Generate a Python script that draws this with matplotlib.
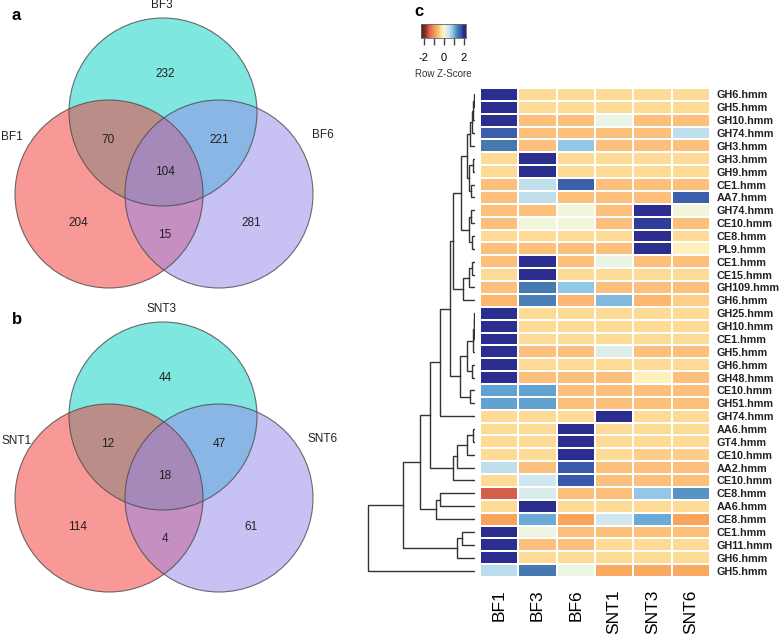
import numpy as np
import matplotlib
matplotlib.use("Agg")
import matplotlib.pyplot as plt
from matplotlib.patches import Circle
from matplotlib.colors import LinearSegmentedColormap, Normalize

W, H = 784, 641
plt.rcParams['font.family'] = ['Liberation Sans', 'DejaVu Sans']

# ---- data ----
bf_sets = ["BF1", "BF3", "BF6"]
snt_sets = ["SNT1", "SNT3", "SNT6"]
# region order: only1, only3, only6, 1&3, 3&6, 1&6, all
bf_counts = [204, 232, 281, 70, 221, 15, 104]
snt_counts = [114, 44, 61, 12, 47, 4, 18]

samples = ["BF1", "BF3", "BF6", "SNT1", "SNT3", "SNT6"]
families = ["GH6.hmm", "GH5.hmm", "GH10.hmm", "GH74.hmm", "GH3.hmm", "GH3.hmm",
            "GH9.hmm", "CE1.hmm", "AA7.hmm", "GH74.hmm", "CE10.hmm", "CE8.hmm",
            "PL9.hmm", "CE1.hmm", "CE15.hmm", "GH109.hmm", "GH6.hmm", "GH25.hmm",
            "GH10.hmm", "CE1.hmm", "GH5.hmm", "GH6.hmm", "GH48.hmm", "CE10.hmm",
            "GH51.hmm", "GH74.hmm", "AA6.hmm", "GT4.hmm", "CE10.hmm", "AA2.hmm",
            "CE10.hmm", "CE8.hmm", "AA6.hmm", "CE8.hmm", "CE1.hmm", "GH11.hmm",
            "GH6.hmm", "GH5.hmm"]
zscores = [
    [2.0, -0.3, -0.3, -0.3, -0.3, -0.3],
    [2.0, -0.3, -0.3, -0.3, -0.3, -0.3],
    [2.0, -0.5, -0.5, 0.2, -0.5, -0.5],
    [1.7, -0.5, -0.5, -0.5, -0.5, 0.6],
    [1.45, -0.5, 0.9, -0.5, -0.5, -0.5],
    [-0.3, 2.0, -0.3, -0.3, -0.3, -0.3],
    [-0.3, 2.0, -0.3, -0.3, -0.3, -0.3],
    [-0.5, 0.6, 1.7, -0.5, -0.5, -0.5],
    [-0.5, 0.6, -0.5, -0.5, -0.5, 1.7],
    [-0.5, -0.5, 0.1, -0.5, 2.0, 0.1],
    [-0.5, 0.1, 0.1, -0.5, 1.9, -0.5],
    [-0.3, -0.3, -0.3, -0.3, 2.0, -0.3],
    [-0.5, -0.5, -0.5, -0.5, 2.0, -0.1],
    [-0.5, 2.0, -0.5, 0.2, -0.5, -0.5],
    [-0.3, 2.0, -0.3, -0.3, -0.3, -0.3],
    [-0.5, 1.45, 0.9, -0.5, -0.5, -0.5],
    [-0.6, 1.4, -0.6, 1.0, -0.6, -0.4],
    [2.0, -0.3, -0.3, -0.3, -0.3, -0.3],
    [2.0, -0.3, -0.3, -0.3, -0.3, -0.3],
    [2.0, -0.3, -0.3, -0.3, -0.3, -0.3],
    [2.0, -0.5, -0.5, 0.35, -0.5, -0.5],
    [2.0, -0.3, -0.3, -0.3, -0.3, -0.3],
    [2.0, -0.5, -0.5, -0.5, -0.1, -0.5],
    [1.15, 1.15, -0.5, -0.5, -0.5, -0.5],
    [1.15, 1.15, -0.5, -0.5, -0.5, -0.5],
    [-0.3, -0.3, -0.3, 2.0, -0.3, -0.3],
    [-0.3, -0.3, 2.0, -0.3, -0.3, -0.3],
    [-0.3, -0.3, 2.0, -0.3, -0.3, -0.3],
    [-0.3, -0.3, 2.0, -0.3, -0.4, -0.4],
    [0.6, -0.5, 1.75, -0.5, -0.5, -0.5],
    [-0.3, 0.5, 1.75, -0.5, -0.5, -0.5],
    [-1.45, 0.4, -0.5, -0.5, 0.9, 1.25],
    [-0.3, 2.0, -0.3, -0.3, -0.3, -0.3],
    [-0.8, 1.1, -0.8, 0.5, 1.1, -0.8],
    [2.0, 0.15, -0.5, -0.5, -0.5, -0.5],
    [2.0, -0.5, -0.5, -0.3, -0.3, -0.3],
    [2.0, -0.3, -0.3, -0.3, -0.3, -0.3],
    [0.65, 1.45, 0.15, -0.75, -0.75, -0.75],
]

# row dendrogram merges: (name, left, right, height); ints are row indices
merges = [
    ("c1", 0, 1, 1), ("c2", "c1", 2, 2), ("c3", "c2", 3, 3), ("c4", "c3", 4, 5),
    ("c5", 5, 6, 2), ("c6", 7, 8, 4), ("c7", "c5", "c6", 6), ("M", "c4", "c7", 8),
    ("c8", 11, 12, 3), ("c9", 9, 10, 4), ("c10", "c9", "c8", 6), ("L", "M", "c10", 14),
    ("c11", 13, 14, 3), ("c12", "c11", 15, 6), ("c13", "c12", 16, 12),
    ("J", "L", "c13", 22),
    ("c14", 17, 18, 0.7), ("c15", "c14", 19, 1.5), ("c16", "c15", 20, 2.5),
    ("c17", 21, 22, 3), ("O", "c16", "c17", 8), ("c18", 23, 24, 5),
    ("N", "O", "c18", 15), ("I", "J", "N", 25), ("Hn", "I", 25, 35),
    ("c19", 26, 27, 2), ("c20", "c19", 28, 8), ("F", "c20", 29, 18),
    ("E", "F", 30, 22), ("D", "Hn", "E", 45),
    ("c21", 31, 32, 35), ("C", "c21", 33, 39), ("B", "D", "C", 55),
    ("c22", 34, 35, 13), ("P", "c22", 36, 18), ("A", "B", "P", 72),
    ("root", "A", 37, 107),
]

# colour scale for row z-score
cmap_nodes = [(-2.25, '#4a1f22'), (-1.8, '#8c2c2c'), (-1.45, '#d7604b'),
              (-0.8, '#f9a45c'), (-0.5, '#fcc07c'), (-0.3, '#fddc98'),
              (-0.1, '#fdf0bb'), (0.15, '#eef6e2'), (0.5, '#cfe8ef'),
              (0.9, '#94c8e6'), (1.15, '#63a3d2'), (1.45, '#4679b2'),
              (1.75, '#3a5aab'), (2.0, '#2b2e8e'), (2.25, '#252a6a')]
vmin, vmax = -2.25, 2.25
cmap = LinearSegmentedColormap.from_list(
    "zs", [((v - vmin) / (vmax - vmin), c) for v, c in cmap_nodes])
norm = Normalize(vmin, vmax)


def px_axes(fig, x0, y0, x1, y1):
    return fig.add_axes([x0 / W, 1 - y1 / H, (x1 - x0) / W, (y1 - y0) / H])


fig = plt.figure(figsize=(W / 100, H / 100), dpi=100)

# ---- Venn diagrams (pixel coordinates) ----
ax = fig.add_axes([0, 0, 1, 1])
ax.set_xlim(0, W)
ax.set_ylim(H, 0)
ax.axis('off')

centers = {"1": (109, 194), "3": (163, 112), "6": (219, 194)}
fills = {"3": '#00d1c3', "1": '#f53531', "6": '#9387eb'}
region_pos = [(78, 223), (165, 74), (251, 223), (108, 140), (219, 140),
              (165, 235), (165, 172)]
label_pos = [(1, 137), (162, 5), (323, 135)]
label_ha = ['left', 'center', 'center']

for letter, names, counts, dy in [("a", bf_sets, bf_counts, 0),
                                  ("b", snt_sets, snt_counts, 304)]:
    for key in ["3", "1", "6"]:
        cx, cy = centers[key]
        ax.add_patch(Circle((cx, cy + dy), 94, facecolor=fills[key], alpha=0.5,
                            edgecolor='none'))
    for key in ["3", "1", "6"]:
        cx, cy = centers[key]
        ax.add_patch(Circle((cx, cy + dy), 94, facecolor='none',
                            edgecolor='#4a4a4a', lw=0.8, alpha=0.8))
    for (x, y), n in zip(region_pos, counts):
        ax.text(x, y + dy, str(n), ha='center', va='center', fontsize=8.5,
                color='#222222')
    for (x, y), name, ha in zip(label_pos, names, label_ha):
        ax.text(x, y + dy, name, ha=ha, va='center', fontsize=8.5,
                color='#222222')
    ax.text(12, 15 + dy, letter, ha='left', va='center', fontsize=12,
            fontweight='bold')

ax.text(414, 12, "c", ha='left', va='center', fontsize=12, fontweight='bold')

# ---- heatmap ----
Z = np.array(zscores)
nrow, ncol = Z.shape
ax_hm = px_axes(fig, 480, 88, 710, 577)
ax_hm.pcolormesh(np.arange(ncol + 1), np.arange(nrow + 1), Z, cmap=cmap,
                 norm=norm, edgecolors='white', linewidth=1.4)
ax_hm.set_xlim(0, ncol)
ax_hm.set_ylim(nrow, 0)
for s in ax_hm.spines.values():
    s.set_visible(False)
ax_hm.yaxis.tick_right()
ax_hm.set_yticks(np.arange(nrow) + 0.5)
ax_hm.set_yticklabels(families, fontsize=7.8, fontweight='bold', color='#222222')
ax_hm.set_xticks(np.arange(ncol) + 0.5)
ax_hm.set_xticklabels(samples, rotation=90, fontsize=12.5, va='top')
ax_hm.tick_params(length=0)
ax_hm.tick_params(axis='y', pad=5)
ax_hm.tick_params(axis='x', pad=9)

# ---- row dendrogram ----
ax_d = px_axes(fig, 364, 88, 475, 577)
ax_d.set_xlim(111, 0)
ax_d.set_ylim(nrow, 0)
ax_d.axis('off')
pos = {}


def node(k):
    if isinstance(k, int):
        return 0.0, k + 0.5
    return pos[k]


for name, a, b, h in merges:
    ha, ya = node(a)
    hb, yb = node(b)
    ax_d.plot([ha, h, h, hb], [ya, ya, yb, yb], color='#333333', lw=1.0,
              solid_joinstyle='miter')
    pos[name] = (h, (ya + yb) / 2)

# ---- colour key ----
ax_k = px_axes(fig, 421, 24, 466, 38)
grad = np.linspace(vmin, vmax, 256)[None, :]
ax_k.imshow(grad, aspect='auto', cmap=cmap, norm=norm,
            extent=[vmin, vmax, 0, 1])
ax_k.set_yticks([])
ax_k.set_xticks([-2, -1, 0, 1, 2])
ax_k.set_xticklabels(["-2", "", "0", "", "2"], fontsize=8)
ax_k.tick_params(axis='x', length=5, width=1, color='#444444', pad=6)
for s in ax_k.spines.values():
    s.set_color('#666666')
    s.set_linewidth(0.6)
ax.text(443, 74, "Row Z-Score", ha='center', va='center', fontsize=7,
        color='#333333')

fig.savefig("out.png", dpi=100)
